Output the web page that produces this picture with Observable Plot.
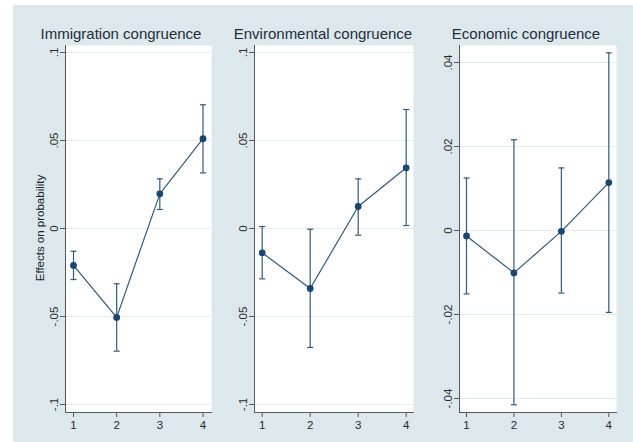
<!DOCTYPE html>
<html>
<head>
<meta charset="utf-8">
<script src="https://cdn.jsdelivr.net/npm/d3@7"></script>
<script src="https://cdn.jsdelivr.net/npm/@observablehq/plot@0.6"></script>
<style>
  html, body { margin: 0; padding: 0; background: #ffffff; }
  #chart { position: relative; width: 633px; height: 442px; overflow: hidden; font-family: "Liberation Sans", Arial, sans-serif; }
  #bg { position: absolute; left: 13px; top: 5px; right: 0; bottom: 0; background: #dce8eb; }
  .panel { position: absolute; top: 5px; }
  .title { position: absolute; top: 26px; width: 240px; text-align: center; font-size: 15px; line-height: 15px; color: #1f2d3c; white-space: nowrap; }
  #ylabel { position: absolute; left: -60px; top: 220.5px; width: 200px; height: 14px; line-height: 14px; text-align: center; font-size: 11.5px; color: #222; transform: rotate(-90deg); white-space: nowrap; }
</style>
</head>
<body>
<div id="chart">
  <div id="bg"></div>
</div>
<script>
// ---- Data ----
const xCats = [1, 2, 3, 4];
const panelTitles = ["Immigration congruence", "Environmental congruence", "Economic congruence"];
const yAxisTitle = "Effects on probability";

const immEst = [-0.0210, -0.0505, 0.0197, 0.0510];
const immLo  = [-0.0290, -0.0697, 0.0108, 0.0316];
const immHi  = [-0.0129, -0.0314, 0.0282, 0.0703];

const envEst = [-0.0138, -0.0341, 0.0125, 0.0345];
const envLo  = [-0.0286, -0.0676, -0.0038, 0.0017];
const envHi  = [0.0011, -0.0004, 0.0282, 0.0676];

const ecoEst = [-0.0013, -0.0101, -0.0002, 0.0114];
const ecoLo  = [-0.0151, -0.0415, -0.0149, -0.0195];
const ecoHi  = [0.0125, 0.0216, 0.0149, 0.0423];

const yTicksA  = [-0.1, -0.05, 0, 0.05, 0.1];
const yLabelsA = ["-.1", "-.05", "0", ".05", ".1"];
const yTicksB  = [-0.04, -0.02, 0, 0.02, 0.04];
const yLabelsB = ["-.04", "-.02", "0", ".02", ".04"];
const xLabels  = ["1", "2", "3", "4"];

// ---- Styling ----
const navy = "#1a476f";
const lineCol = "#33597a";
const axisCol = "#555a5e";
const gridCol = "#e3ecef";

const capSymbol = {
  draw(context, size) {
    const w = Math.sqrt(size / Math.PI);
    context.moveTo(-w, 0);
    context.lineTo(w, 0);
  }
};

function rows(est, lo, hi) {
  return xCats.map((x, i) => ({x, est: est[i], lo: lo[i], hi: hi[i]}));
}

function panel({data, yTicks, yLabels, width, left, marginLeft, marginRight, insetTop, insetBottom, insetLeft, insetRight, yDomain}) {
  const p = Plot.plot({
    width, height: 437,
    marginLeft, marginRight, marginTop: 40, marginBottom: 30,
    style: {background: "transparent", fontFamily: "'Liberation Sans', Arial, sans-serif", fontSize: "11.5px", color: "#2a2a2a", overflow: "visible"},
    x: {type: "linear", domain: [1, 4], insetLeft, insetRight},
    y: {type: "linear", domain: yDomain, insetTop, insetBottom},
    marks: [
      Plot.frame({fill: "white", stroke: null}),
      Plot.gridY(yTicks, {stroke: gridCol, strokeOpacity: 1, strokeWidth: 1}),
      Plot.frame({anchor: "left", stroke: axisCol, strokeWidth: 1}),
      Plot.frame({anchor: "bottom", stroke: axisCol, strokeWidth: 1}),
      Plot.axisY({ticks: yTicks, tickFormat: d => yLabels[yTicks.indexOf(d)], tickRotate: -90, tickSize: 5, tickPadding: 3, stroke: axisCol, label: null}),
      Plot.axisX({ticks: xCats, tickFormat: d => xLabels[xCats.indexOf(d)], tickSize: 5, tickPadding: 3, stroke: axisCol, label: null}),
      Plot.ruleX(data, {x: "x", y1: "lo", y2: "hi", stroke: lineCol, strokeWidth: 1.2}),
      Plot.dot(data, {x: "x", y: "hi", symbol: capSymbol, r: 3, fill: "none", stroke: lineCol, strokeWidth: 1.2}),
      Plot.dot(data, {x: "x", y: "lo", symbol: capSymbol, r: 3, fill: "none", stroke: lineCol, strokeWidth: 1.2}),
      Plot.line(data, {x: "x", y: "est", stroke: lineCol, strokeWidth: 1.2}),
      Plot.dot(data, {x: "x", y: "est", r: 3.4, fill: navy, stroke: null})
    ]
  });
  p.classList.add("panel");
  p.style.left = left + "px";
  return p;
}

const chart = document.getElementById("chart");

chart.appendChild(panel({data: rows(immEst, immLo, immHi), yTicks: yTicksA, yLabels: yLabelsA, yDomain: [-0.1, 0.1],
  width: 212, left: 13, marginLeft: 52, marginRight: 14, insetTop: 7, insetBottom: 8, insetLeft: 8, insetRight: 8.5}));
chart.appendChild(panel({data: rows(envEst, envLo, envHi), yTicks: yTicksA, yLabels: yLabelsA, yDomain: [-0.1, 0.1],
  width: 205, left: 225, marginLeft: 29, marginRight: 17, insetTop: 7, insetBottom: 8, insetLeft: 7.7, insetRight: 7.3}));
chart.appendChild(panel({data: rows(ecoEst, ecoLo, ecoHi), yTicks: yTicksB, yLabels: yLabelsB, yDomain: [-0.04, 0.04],
  width: 203, left: 430, marginLeft: 29, marginRight: 17, insetTop: 17, insetBottom: 14, insetLeft: 7, insetRight: 7.7}));

const titleCenters = [121, 323, 526];
panelTitles.forEach((t, i) => {
  const d = document.createElement("div");
  d.className = "title";
  d.textContent = t;
  d.style.left = (titleCenters[i] - 120) + "px";
  chart.appendChild(d);
});

const yl = document.createElement("div");
yl.id = "ylabel";
yl.textContent = yAxisTitle;
chart.appendChild(yl);
</script>
</body>
</html>
